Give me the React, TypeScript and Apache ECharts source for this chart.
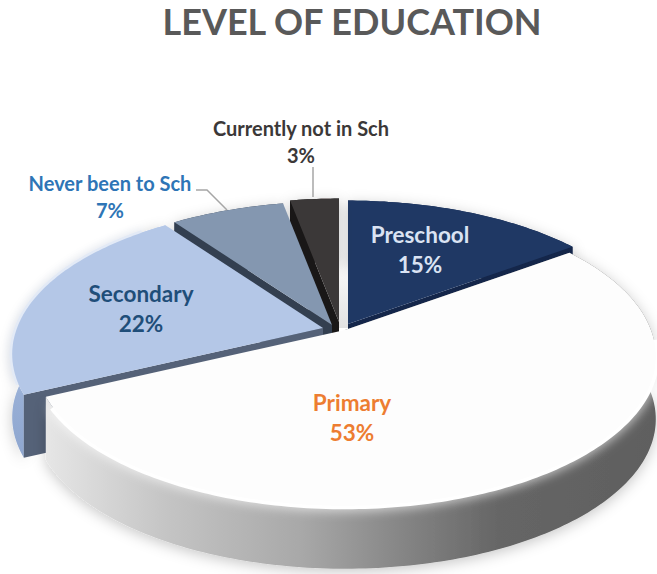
import React, { useEffect, useRef } from "react";
import * as echarts from "echarts";

const titleText = "LEVEL OF EDUCATION";
const categories = ["Preschool", "Primary", "Secondary", "Never been to Sch", "Currently not in Sch"];
const percents = [15, 53, 22, 7, 3];
const total = percents.reduce((a, b) => a + b, 0);

// painter's order: index into categories
const drawOrder = [0, 4, 3, 2, 1];

const R = 306, RV = 145, K = 0.175, DEPTH = 63;

const looks: any[] = [
  { cx: 348, cy: 324, top: "#1f3864", wall: "#14264a", side: "#14264a", lx: 420, ly: 249, color: "#dae3f3", size: 22.5, lh: 30 },
  { cx: 345, cy: 330, top: "#fdfdfd", rim: "#ffffff", rimBlur: 12, rimWidth: 7, wall: "#777777",
    side: new echarts.graphic.LinearGradient(0, 0, 1, 0, [
      { offset: 0, color: "#e6e6e6" }, { offset: 0.2, color: "#c4c4c4" }, { offset: 0.42, color: "#a8a8a8" },
      { offset: 0.61, color: "#808080" }, { offset: 0.74, color: "#666666" }, { offset: 1, color: "#5f5f5f" },
    ]), lx: 352, ly: 417, color: "#ed7d31", size: 22.5, lh: 30 },
  { cx: 323, cy: 328, top: "#b4c7e7", rim: "#e3eaf6", rimBlur: 8, rimWidth: 5, wall: "#556278",
    side: new echarts.graphic.LinearGradient(0, 0, 0, 1, [
      { offset: 0, color: "#b4c7e7" }, { offset: 1, color: "#8ea6cf" },
    ]), lx: 141, ly: 308, color: "#1f4e79", size: 22.5, lh: 30 },
  { cx: 332, cy: 325, top: "#8497b0", wall: "#333f50", side: "#333f50", lx: 110, ly: 196, color: "#2e75b6", size: 20, lh: 27,
    leader: [[196, 190], [207, 190], [227, 210]] },
  { cx: 339, cy: 322, top: "#3b3838", wall: "#191717", side: "#191717", lx: 301, ly: 141, color: "#3b3838", size: 20, lh: 27,
    leader: [[313, 167], [313, 197]] },
];

function startAngle(index: number) {
  let sum = 0;
  for (let i = 0; i < index; i++) sum += percents[i];
  return (sum / total) * 360;
}

function project(cx: number, cy: number, deg: number, radius = 1) {
  const t = (deg * Math.PI) / 180;
  const X = Math.sin(t) * radius, Y = Math.cos(t) * radius;
  const w = 1 + K * Y;
  return { x: cx + (R * X) / w, y: cy - (RV * Y) / w, d: DEPTH };
}

function renderSlice(params: any, api: any) {
  const index = drawOrder[params.dataIndex];
  const look = looks[index];
  const value = api.value(0);
  const from = api.value(1);
  const to = from + (value / total) * 360;
  const arc: number[][] = [];
  const low: number[][] = [];
  const n = Math.max(4, Math.ceil(to - from));
  for (let i = 0; i <= n; i++) {
    const p = project(look.cx, look.cy, from + ((to - from) * i) / n);
    arc.push([p.x, p.y]);
    low.push([p.x, p.y + p.d]);
  }
  const vertex = project(look.cx, look.cy, 0, 0);
  const vx = vertex.x, vy = vertex.y, vd = vertex.d;
  const children: any[] = [];
  // outer rim
  children.push({
    type: "polygon",
    shape: { points: [...arc, ...low.slice().reverse()] },
    style: { fill: look.side, shadowBlur: 14, shadowColor: "rgba(0,0,0,0.22)", shadowOffsetY: 3 },
  });
  // exposed cut wall on the start edge
  const s = arc[0], sl = low[0];
  children.push({
    type: "polygon",
    shape: { points: [[vx, vy], s, sl, [vx, vy + vd]] },
    style: { fill: look.wall },
  });
  // end wall for the preschool slice
  if (index === 0) {
    const e = arc[arc.length - 1], el = low[low.length - 1];
    children.push({
      type: "polygon",
      shape: { points: [[vx, vy], e, el, [vx, vy + vd]] },
      style: { fill: look.wall },
    });
  }
  // soft bevel along the outer edge only
  if (look.rim) {
    children.push({
      type: "polyline",
      shape: { points: arc.slice(index === 1 ? 40 : 4, index === 2 ? arc.length - 6 : arc.length - 4) },
      style: { fill: "none", stroke: look.rim, lineWidth: look.rimWidth, shadowBlur: look.rimBlur, shadowColor: look.rim },
    });
  }
  // top face
  children.push({
    type: "polygon",
    shape: { points: [[vx, vy], ...arc] },
    style: { fill: look.top },
  });
  if (look.leader) {
    children.push({
      type: "polyline",
      shape: { points: look.leader },
      style: { fill: "none", stroke: "#a6a6a6", lineWidth: 1.5 },
    });
  }
  children.push({
    type: "text",
    style: {
      text: `${categories[index]}\n${value}%`,
      x: look.lx,
      y: look.ly,
      fill: look.color,
      fontFamily: "Lato",
      fontWeight: "bold",
      fontSize: look.size,
      lineHeight: look.lh,
      align: "center",
      verticalAlign: "middle",
    },
  });
  return { type: "group", children };
}

export default function App() {
  const ref = useRef<HTMLDivElement>(null);
  useEffect(() => {
    document.body.style.margin = "0";
    const chart = echarts.init(ref.current!, null, { renderer: "svg" });
    chart.setOption({
      animation: false,
      backgroundColor: "#ffffff",
      title: {
        text: titleText,
        left: 347,
        top: -2,
        textAlign: "center",
        textStyle: { color: "#595959", fontFamily: "Lato", fontWeight: "bold", fontSize: 36 },
      },
      graphic: [
        {
          type: "rect",
          z: -1,
          shape: { x: 339, y: 250, width: 10, height: 78 },
          style: {
            fill: new echarts.graphic.LinearGradient(0, 0, 0, 1, [
              { offset: 0, color: "#ffffff" }, { offset: 1, color: "#e2e2e2" },
            ]),
          },
        },
      ],
      series: [
        {
          type: "custom",
          coordinateSystem: "none",
          silent: true,
          renderItem: renderSlice,
          data: drawOrder.map((i) => [percents[i], startAngle(i)]),
        },
      ],
    });
    return () => chart.dispose();
  }, []);
  return <div ref={ref} style={{ width: 657, height: 574 }} />;
}
